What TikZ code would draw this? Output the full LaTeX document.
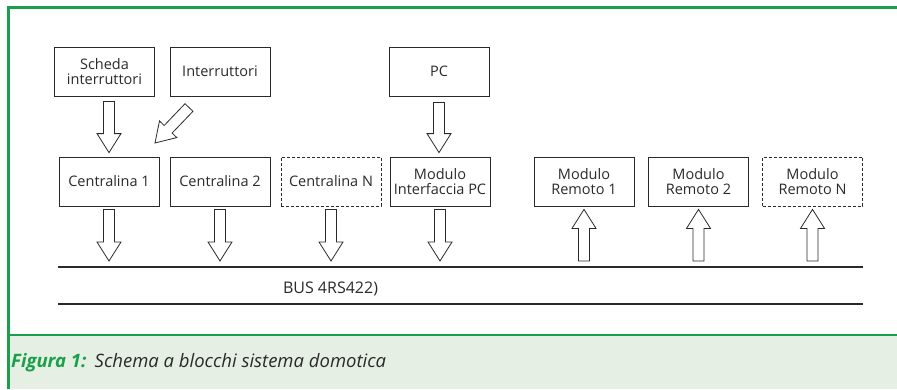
\documentclass[tikz,border=0pt]{standalone}
\usepackage{fontspec}
\setmainfont{Open Sans}
\usetikzlibrary{calc}
\definecolor{frame}{HTML}{1A9F4A}
\definecolor{capfill}{HTML}{E5EFE4}
\definecolor{ink}{HTML}{2A2A2A}
\tikzset{
  box/.style={draw=ink, line width=0.8pt, minimum width=100pt, minimum height=49pt,
    align=center, font=\fontsize{14.5}{15.5}\selectfont, text=ink, inner sep=1pt},
  dbox/.style={box, dashed, dash pattern=on 3pt off 2pt},
  barrowstyle/.style={draw=ink, fill=white, line width=0.8pt, line join=miter},
  busline/.style={draw=ink, line width=1.8pt},
}
\newcommand\barrow[2]{%
  \coordinate (bah) at ($(#2)!19pt!(#1)$);
  \draw[barrowstyle] ($(#1)!5.5pt!90:(#2)$) -- ($(bah)!5.5pt!-90:(#1)$) -- ($(bah)!12pt!-90:(#1)$)
    -- (#2) -- ($(bah)!12pt!90:(#1)$) -- ($(bah)!5.5pt!90:(#1)$) -- ($(#1)!5.5pt!-90:(#2)$) -- cycle;}
\begin{document}
\begin{tikzpicture}[x=1pt,y=-1pt]
\useasboundingbox (0,0) rectangle (897,389);
% caption band
\fill[capfill] (8,335) rectangle (897,389);
\draw[frame, line width=2.6pt] (897,7.5) -- (8.5,7.5) -- (8.5,389);
\draw[frame, line width=2.4pt] (8.5,335) -- (897,335);
\node[anchor=west, inner sep=0pt, font=\fontsize{18.5}{20}\selectfont\itshape] (cap) at (11,363)
  {\textcolor{frame}{\bfseries Figura 1:}\hspace{0.45em}\textcolor{ink}{Schema a blocchi sistema domotica}};
% boxes
\node[box] (sch) at (104.5,71.5) {Scheda\\interruttori};
\node[box] (intr) at (220,71.5) {Interruttori};
\node[box] (pc) at (439,71.5) {PC};
\node[box] (c1) at (109,181.5) {Centralina 1};
\node[box] (c2) at (220,181.5) {Centralina 2};
\node[dbox] (cN) at (331,181.5) {Centralina N};
\node[box] (mip) at (440,181.5) {Modulo\\Interfaccia PC};
\node[box] (r1) at (584,181.5) {Modulo\\Remoto 1};
\node[box] (r2) at (698.5,181.5) {Modulo\\Remoto 2};
\node[dbox] (rN) at (812.5,181.5) {Modulo\\Remoto N};
% bus
\coordinate (busL) at (58,267);
\coordinate (busR) at (863,267);
\coordinate (bus2L) at (58,304);
\coordinate (bus2R) at (863,304);
\draw[busline] (busL) -- (busR);
\draw[busline] (bus2L) -- (bus2R);
\node[font=\fontsize{16}{18}\selectfont, text=ink] (bus) at (330.5,288.5) {BUS 4RS422)};
% arrows top
\coordinate (a1s) at ([yshift=-5pt]sch.south -| c1.north);
\coordinate (a1e) at ([yshift=4pt]c1.north);
\barrow{a1s}{a1e}
\coordinate (a2s) at (189,107.5);
\coordinate (a2e) at (155,143);
\barrow{a2s}{a2e}
\coordinate (a3s) at ([yshift=-6pt]pc.south);
\coordinate (a3e) at ([yshift=4pt]pc.south |- mip.north);
\barrow{a3s}{a3e}
% down arrows to bus
\foreach \n in {c1,c2,cN,mip}{
  \coordinate (ds) at ([yshift=-3pt]\n.south);
  \coordinate (de) at ([yshift=6pt]\n.south |- busL);
  \barrow{ds}{de}
}
% up arrows from bus
\foreach \n in {r1,r2,rN}{
  \coordinate (us) at ([yshift=6pt]\n.south |- busL);
  \coordinate (ue) at ([yshift=-3pt]\n.south);
  \barrow{us}{ue}
}
\end{tikzpicture}
\end{document}
